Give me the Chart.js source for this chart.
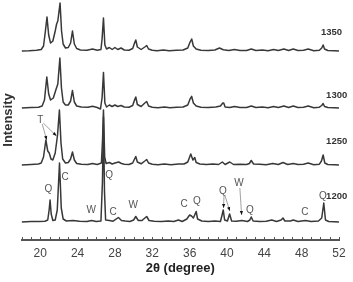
<!DOCTYPE html>
<html>
<head>
<meta charset="utf-8">
<script src="https://cdn.jsdelivr.net/npm/chart.js@4/dist/chart.umd.min.js"></script>
<style>
html,body{margin:0;padding:0;background:#fff;}
#wrap{width:353px;height:282px;position:relative;}
</style>
</head>
<body>
<div id="wrap"><canvas id="c"></canvas></div>
<script>
// ---- data (intensity above each pattern's own baseline, arbitrary units) ----
const temperatures = ['1350', '1300', '1250', '1200'];
const stackOffsets = [189, 132, 75, 18];
const xTicks = [20, 24, 28, 32, 36, 40, 44, 48, 52];

const s1350 = [[18,0],[18.8,0.3],[19.6,0.8],[20.1,1.5],[20.35,5],[20.55,20],[20.72,34],[20.9,16],[21.1,8],[21.35,10],[21.6,20],[21.75,27],[21.88,30],[22.12,48],[22.28,20],[22.45,7],[22.7,3],[23.0,3.5],[23.25,8],[23.45,20],[23.65,7],[23.9,2.5],[24.3,1],[25.0,0.8],[25.6,2],[26.1,0.8],[26.5,1.5],[26.62,12],[26.77,33],[26.92,6],[27.1,2],[27.4,3.5],[27.7,1.5],[28.0,3.5],[28.3,1.5],[28.65,3],[29.0,1],[29.5,0.8],[29.9,2.5],[30.1,8],[30.23,11],[30.4,4],[30.8,1.5],[31.2,4],[31.4,5.5],[31.6,2],[32.0,0.8],[32.5,0.3],[33.2,1],[33.8,0.3],[34.6,0.8],[35.3,1],[35.8,3],[36.05,9],[36.22,12],[36.4,5],[36.7,2],[37.2,0.8],[38,0.5],[38.7,1],[39.2,3],[39.6,1.2],[40.2,0.5],[40.8,1.5],[41.4,0.5],[42.1,0.5],[42.6,2],[43.1,0.5],[43.8,1],[44.4,0.3],[45,1.5],[45.5,0.5],[46.1,2],[46.6,0.5],[47.1,2],[47.6,0.5],[48.2,0.8],[48.7,2],[49.3,0.3],[49.9,0.8],[50.15,3],[50.3,6],[50.45,2],[50.8,0.5],[51.5,0.2],[52,0]];

const s1300 = [[18,0],[19,0.5],[19.8,0.8],[20.2,2],[20.45,8],[20.7,31],[20.9,14],[21.1,8],[21.4,10],[21.7,19],[21.88,24],[22.1,50],[22.27,20],[22.45,6],[22.7,3],[23.0,3],[23.25,7],[23.45,17.5],[23.65,6],[23.9,2],[24.4,1],[25.1,0.8],[25.6,1.8],[26.1,0.5],[26.45,-1],[26.62,10],[26.77,35.5],[26.92,5],[27.1,1],[27.4,3],[27.7,1.5],[28.0,3],[28.3,1.5],[28.65,2.5],[29.0,1],[29.5,0.8],[29.9,2.5],[30.1,8],[30.23,11],[30.4,3.5],[30.8,1.5],[31.2,5],[31.4,6.5],[31.6,2],[32,0.8],[32.6,0.3],[33.3,1],[33.9,0.3],[34.6,0.8],[35.3,1],[35.8,3],[36.05,9],[36.22,11.6],[36.4,5],[36.7,2],[37.2,0.8],[38,0.5],[38.8,1],[39.3,2],[39.55,5],[39.65,5],[39.8,1],[40.3,0.5],[40.8,1.5],[41.4,0.5],[42.1,0.5],[42.6,2],[43.1,0.5],[43.8,1],[44.4,0.3],[45,1.5],[45.5,0.5],[46.1,2],[46.6,0.5],[47.1,2],[47.6,0.5],[48.2,0.8],[48.7,2],[49.3,0.3],[49.9,0.8],[50.15,2.5],[50.3,4.5],[50.45,1.5],[50.8,0.5],[51.5,0.2],[52,0]];

const s1250 = [[18,0],[19,0.5],[19.8,1],[20.1,2],[20.35,8],[20.6,25],[20.8,14],[20.96,12],[21.15,6],[21.35,5],[21.6,12],[21.85,30],[22.05,55],[22.22,22],[22.4,6],[22.7,2],[23.0,2.5],[23.25,6],[23.45,13],[23.65,5],[23.9,1.5],[24.4,0.8],[25.1,0.5],[25.6,1.5],[26.1,0.5],[26.55,2],[26.67,25],[26.77,55],[26.9,8],[27.05,1.5],[27.4,2.5],[27.7,1],[28.0,2],[28.4,3],[28.7,1.5],[29.0,0.8],[29.5,0.5],[29.9,2],[30.1,6],[30.23,8.5],[30.4,3],[30.8,1.2],[31.2,4],[31.4,5.5],[31.6,2],[32,0.8],[32.6,0.3],[33.3,1],[34,0.3],[34.8,1],[35.4,1],[35.8,3],[36.0,8],[36.12,11],[36.35,5],[36.55,7.5],[36.7,2.5],[37.1,1],[37.8,0.5],[38.5,1],[39.1,0.5],[39.5,3],[39.8,0.5],[40.3,3],[40.7,0.5],[41.4,0.8],[42.1,0.5],[42.4,1.5],[42.6,4.5],[42.85,1],[43.5,0.8],[44.2,0.3],[44.9,1.5],[45.5,0.5],[46.0,2.5],[46.5,0.5],[47.1,1.5],[47.6,0.5],[48.2,0.8],[48.7,2],[49.3,0.3],[49.9,0.8],[50.12,4],[50.3,10],[50.48,2],[50.8,0.5],[51.5,0.3],[52,0]];

const s1200 = [[18,0],[19,0.5],[19.8,0.5],[20.5,0.8],[20.8,2],[20.95,12],[21.05,22],[21.17,8],[21.35,1.5],[21.6,2],[21.82,12],[22.06,59],[22.25,14],[22.45,3],[22.8,1],[23.5,1.5],[24.2,0.8],[25.0,0.5],[25.5,1.5],[26.0,0.5],[26.5,1],[26.66,40],[26.77,105],[26.88,30],[27.0,2],[27.4,1.5],[27.8,0.8],[28.37,4.5],[28.7,1.5],[29.1,1],[29.6,0.5],[30.0,2],[30.23,5.5],[30.5,1.5],[30.9,1.5],[31.2,4],[31.4,5.5],[31.65,1.5],[32.2,0.8],[33.0,0.5],[33.7,1],[34.3,0.5],[34.8,2],[35.2,0.5],[35.7,3],[36.0,7],[36.2,6],[36.4,4],[36.7,10.5],[36.85,3],[37.3,1],[38.0,0.5],[38.7,1],[39.3,0.5],[39.45,6],[39.6,12],[39.75,2],[40.05,1],[40.28,8],[40.5,1],[41.0,0.8],[41.6,1.5],[42.2,0.5],[42.45,2],[42.6,5],[42.8,1],[43.5,0.5],[44.2,0.8],[44.8,2],[45.3,0.5],[45.8,2],[46.0,4],[46.2,1],[46.8,1],[47.1,2],[47.6,0.5],[48.4,1.5],[49.0,0.5],[49.8,1],[50.15,4],[50.37,19],[50.55,2],[50.9,0.5],[51.5,0.3],[52,0]];

const seriesList = [s1350, s1300, s1250, s1200];

// phase annotations (2θ, stacked intensity)
const phaseLabels = [['Q',20.86,51],['C',22.67,63],['W',25.45,30],['Q',27.38,65],['C',27.81,28],['W',29.95,35],['C',35.4,36],['Q',36.79,39],['Q',39.57,49],['W',41.29,57],['Q',42.46,30],['C',48.34,28],['Q',50.27,44],['T',20.0,120]];
const tempLabelAt = [[51.2,208],[51.75,145],[51.75,99],[51.75,44]];
const arrowLines = [[20.21,116,20.69,100],[20.32,117,21.74,104],[39.68,44,39.63,32],[39.8,44,40.3,29],[41.38,52,41.57,25]];

const datasets = seriesList.map((s, i) => ({
  label: temperatures[i],
  data: s.map(p => ({x: p[0], y: p[1] + stackOffsets[i]})),
  borderColor: '#383838',
  borderWidth: 1.5,
  pointRadius: 0,
  tension: 0,
  borderJoinStyle: 'round',
  fill: false
}));

const overlay = {
  id: 'overlay',
  afterDraw(chart) {
    const {ctx, scales: {x, y}, chartArea} = chart;
    ctx.save();
    // upward minor ticks on the 2θ axis
    ctx.strokeStyle = '#555';
    ctx.lineWidth = 1;
    for (let v = 18; v <= 52; v++) {
      const px = Math.round(x.getPixelForValue(v)) + 0.5;
      ctx.beginPath();
      ctx.moveTo(px, chartArea.bottom);
      ctx.lineTo(px, chartArea.bottom - 3);
      ctx.stroke();
    }
    // arrow lines
    arrowLines.forEach(a => {
      const x1 = x.getPixelForValue(a[0]), y1 = y.getPixelForValue(a[1]);
      const x2 = x.getPixelForValue(a[2]), y2 = y.getPixelForValue(a[3]);
      ctx.strokeStyle = '#8a8a8a';
      ctx.lineWidth = 0.8;
      ctx.beginPath(); ctx.moveTo(x1, y1); ctx.lineTo(x2, y2); ctx.stroke();
      const ang = Math.atan2(y2 - y1, x2 - x1);
      ctx.fillStyle = '#111';
      ctx.beginPath();
      ctx.moveTo(x2, y2);
      ctx.lineTo(x2 - 4 * Math.cos(ang) + 1.6 * Math.sin(ang), y2 - 4 * Math.sin(ang) - 1.6 * Math.cos(ang));
      ctx.lineTo(x2 - 4 * Math.cos(ang) - 1.6 * Math.sin(ang), y2 - 4 * Math.sin(ang) + 1.6 * Math.cos(ang));
      ctx.closePath(); ctx.fill();
    });
    // phase letters
    ctx.fillStyle = '#555';
    ctx.font = '10px "Liberation Sans", Arial, sans-serif';
    ctx.textAlign = 'center';
    ctx.textBaseline = 'middle';
    phaseLabels.forEach(l => {
      ctx.fillText(l[0], x.getPixelForValue(l[1]), y.getPixelForValue(l[2]));
    });
    // temperature labels
    ctx.fillStyle = '#333';
    ctx.font = 'bold 9.5px "Liberation Sans", Arial, sans-serif';
    temperatures.forEach((t, i) => {
      ctx.fillText(t, x.getPixelForValue(tempLabelAt[i][0]), y.getPixelForValue(tempLabelAt[i][1]));
    });
    ctx.restore();
  }
};

new Chart(document.getElementById('c'), {
  type: 'line',
  data: {datasets},
  options: {
    responsive: true,
    maintainAspectRatio: false,
    animation: false,
    layout: {padding: {left: 0, right: 14, top: 0, bottom: 0}},
    plugins: {legend: {display: false}, tooltip: {enabled: false}},
    scales: {
      x: {
        type: 'linear',
        min: 18, max: 52,
        afterBuildTicks: s => { s.ticks = xTicks.map(v => ({value: v})); },
        afterFit: s => { s.height = 42; },
        grid: {display: false, drawTicks: false},
        border: {display: true, color: '#555', width: 2},
        ticks: {padding: 6, color: '#444', font: {family: '"Liberation Sans", Arial, sans-serif', size: 12}, maxRotation: 0, autoSkip: false},
        title: {display: true, text: '2θ (degree)', color: '#222', padding: {top: 0, bottom: 6}, font: {family: '"Liberation Sans", Arial, sans-serif', size: 13, weight: 'bold'}}
      },
      y: {
        min: 0, max: 240,
        grid: {display: false, drawTicks: false},
        border: {display: false},
        ticks: {display: false},
        title: {display: true, text: 'Intensity', color: '#333', padding: {top: 1, bottom: 5}, font: {family: '"Liberation Sans", Arial, sans-serif', size: 13, weight: 'bold'}}
      }
    }
  },
  plugins: [overlay]
});
</script>
</body>
</html>
